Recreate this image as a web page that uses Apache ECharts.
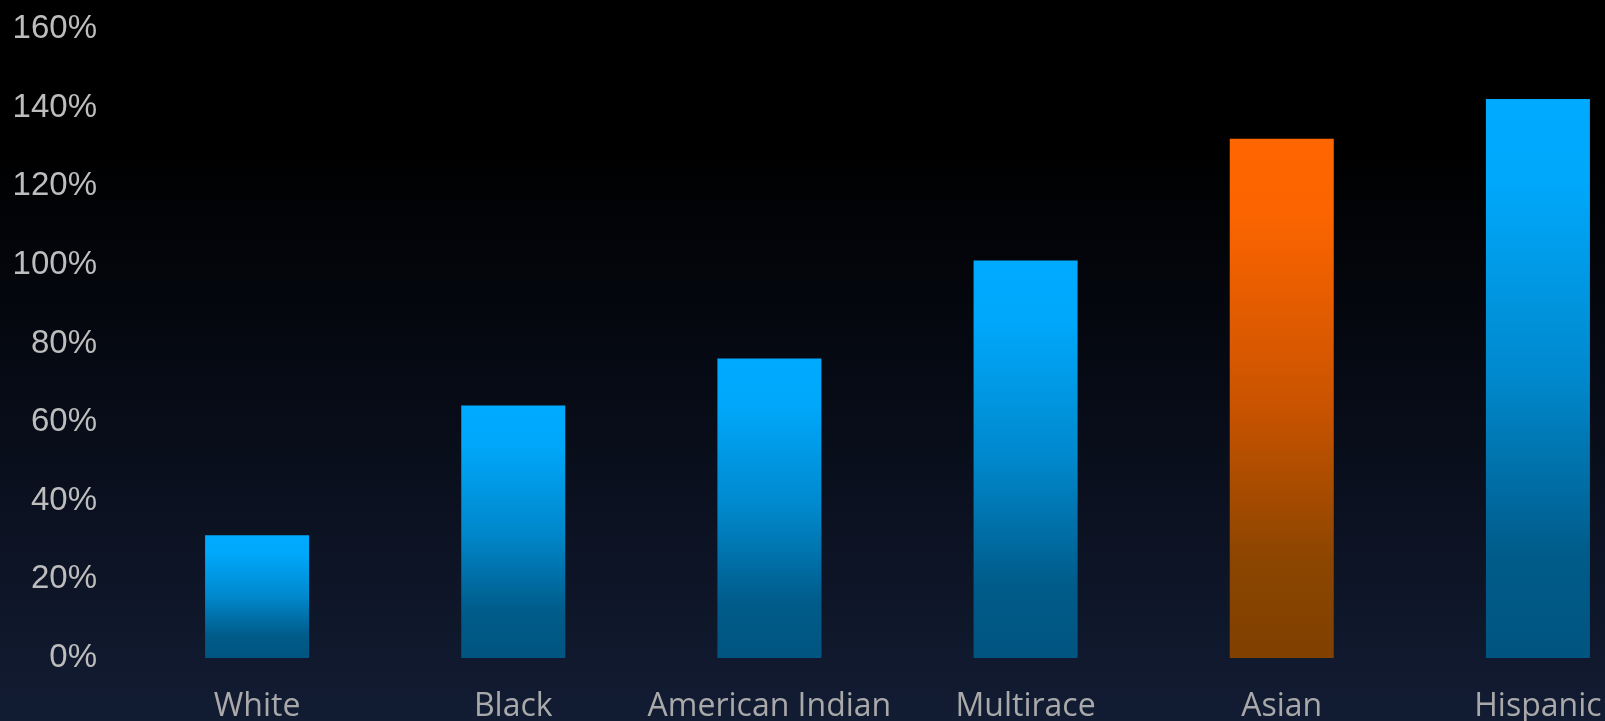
<!DOCTYPE html>
<html>
<head>
<meta charset="utf-8">
<script src="https://cdn.jsdelivr.net/npm/echarts@6/dist/echarts.min.js"></script>
<style>
  html, body { margin: 0; padding: 0; background: #000; overflow: hidden; }
  #chart { width: 1605px; height: 721px; }
</style>
</head>
<body>
<div id="chart"></div>
<script>
const categories = ['White', 'Black', 'American Indian', 'Multirace', 'Asian', 'Hispanic'];
const values = [31.2, 64.2, 76.2, 101.1, 132.1, 142.2];
const highlighted = ['Asian'];
const yTicks = [0, 20, 40, 60, 80, 100, 120, 140, 160];

const blueGrad = new echarts.graphic.LinearGradient(0, 0, 0, 1, [
  { offset: 0, color: '#00aaff' },
  { offset: 0.15, color: '#00a8fb' },
  { offset: 0.5, color: '#0088cc' },
  { offset: 0.82, color: '#005b89' },
  { offset: 1, color: '#005580' }
]);
const orangeGrad = new echarts.graphic.LinearGradient(0, 0, 0, 1, [
  { offset: 0, color: '#ff6600' },
  { offset: 0.15, color: '#fb6400' },
  { offset: 0.5, color: '#cc5400' },
  { offset: 0.82, color: '#8a4500' },
  { offset: 1, color: '#804000' }
]);

const chart = echarts.init(document.getElementById('chart'));
chart.setOption({
  backgroundColor: new echarts.graphic.LinearGradient(0, 0, 0, 1, [
    { offset: 0, color: '#000000' },
    { offset: 0.2, color: '#000000' },
    { offset: 0.55, color: '#070b16' },
    { offset: 1, color: '#121c33' }
  ]),
  animation: false,
  grid: {
    left: 129, top: 29, width: 1537, height: 629,
    containLabel: false,
    outerBoundsMode: 'none'
  },
  xAxis: {
    type: 'category',
    data: categories,
    axisLine: { show: false },
    axisTick: { show: false },
    axisLabel: {
      interval: 0,
      color: '#a9a9a9',
      fontSize: 32,
      fontFamily: 'Open Sans',
      margin: 33
    }
  },
  yAxis: {
    type: 'value',
    min: yTicks[0],
    max: yTicks[yTicks.length - 1],
    interval: 20,
    splitLine: { show: false },
    axisLine: { show: false },
    axisTick: { show: false },
    axisLabel: {
      color: '#bdbdbd',
      fontSize: 33,
      fontFamily: 'Liberation Sans',
      margin: 32,
      formatter: v => v + '%'
    }
  },
  series: [{
    type: 'bar',
    barWidth: '40.6%',
    data: categories.map((c, i) => ({
      value: values[i],
      itemStyle: { color: highlighted.includes(c) ? orangeGrad : blueGrad }
    }))
  }]
});
</script>
</body>
</html>
